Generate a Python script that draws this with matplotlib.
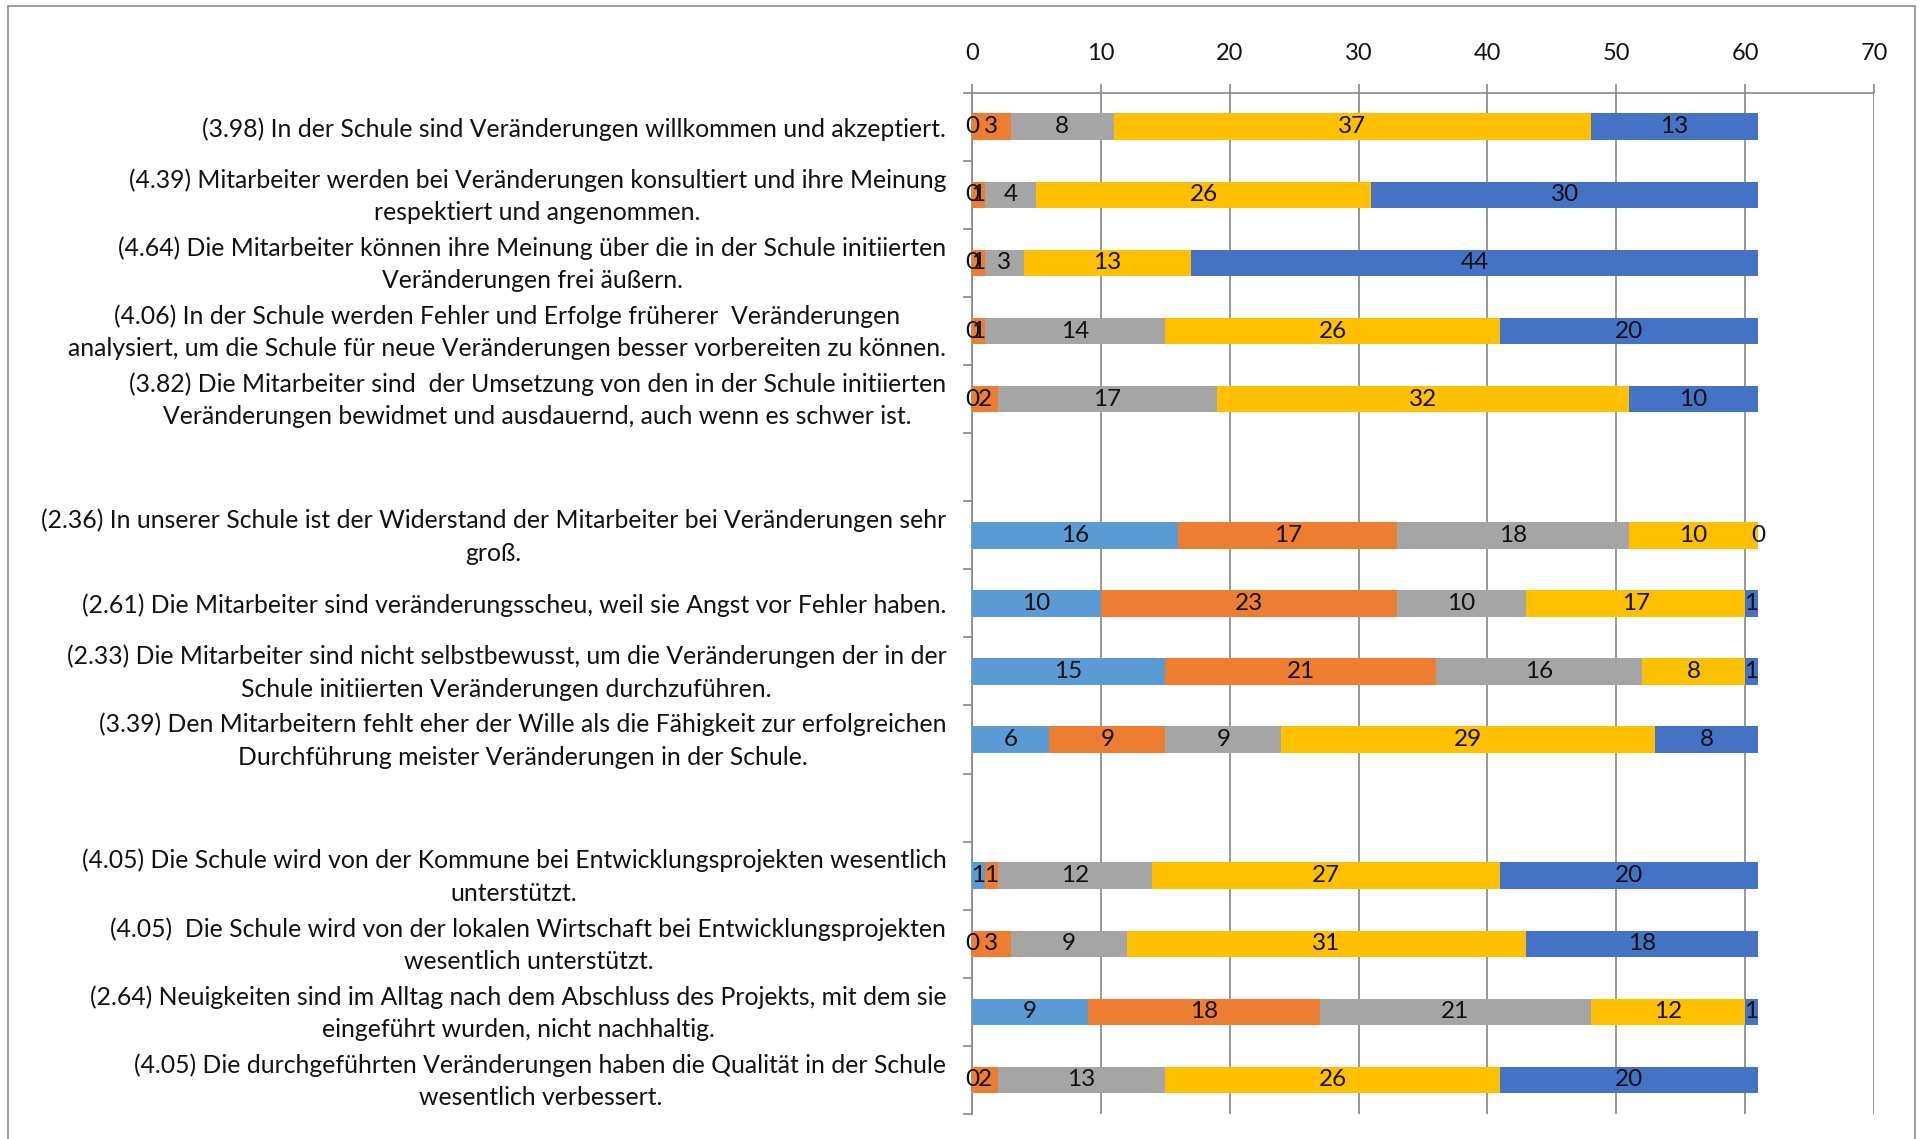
import numpy as np
import matplotlib
matplotlib.use("Agg")
import matplotlib.pyplot as plt
import matplotlib.transforms as mtransforms
from matplotlib.patches import Rectangle

plt.rcParams['font.family'] = ['Lato', 'DejaVu Sans']

# categories, top to bottom ("" = empty spacer row)
categories = [
    "(3.98) In der Schule sind Veränderungen willkommen und akzeptiert.",
    "(4.39) Mitarbeiter werden bei Veränderungen konsultiert und ihre Meinung\nrespektiert und angenommen.",
    "(4.64) Die Mitarbeiter können ihre Meinung über die in der Schule initiierten\nVeränderungen frei äußern.",
    "(4.06) In der Schule werden Fehler und Erfolge früherer  Veränderungen\nanalysiert, um die Schule für neue Veränderungen besser vorbereiten zu können.",
    "(3.82) Die Mitarbeiter sind  der Umsetzung von den in der Schule initiierten\nVeränderungen bewidmet und ausdauernd, auch wenn es schwer ist.",
    "",
    "(2.36) In unserer Schule ist der Widerstand der Mitarbeiter bei Veränderungen sehr\ngroß.",
    "(2.61) Die Mitarbeiter sind veränderungsscheu, weil sie Angst vor Fehler haben.",
    "(2.33) Die Mitarbeiter sind nicht selbstbewusst, um die Veränderungen der in der\nSchule initiierten Veränderungen durchzuführen.",
    "(3.39) Den Mitarbeitern fehlt eher der Wille als die Fähigkeit zur erfolgreichen\nDurchführung meister Veränderungen in der Schule.",
    "",
    "(4.05) Die Schule wird von der Kommune bei Entwicklungsprojekten wesentlich\nunterstützt.",
    "(4.05)  Die Schule wird von der lokalen Wirtschaft bei Entwicklungsprojekten\nwesentlich unterstützt.",
    "(2.64) Neuigkeiten sind im Alltag nach dem Abschluss des Projekts, mit dem sie\neingeführt wurden, nicht nachhaltig.",
    "(4.05) Die durchgeführten Veränderungen haben die Qualität in der Schule\nwesentlich verbessert.",
]

nan = np.nan
s1 = [0, 0, 0, 0, 0, nan, 16, 10, 15, 6, nan, 1, 0, 9, 0]
s2 = [3, 1, 1, 1, 2, nan, 17, 23, 21, 9, nan, 1, 3, 18, 2]
s3 = [8, 4, 3, 14, 17, nan, 18, 10, 16, 9, nan, 12, 9, 21, 13]
s4 = [37, 26, 13, 26, 32, nan, 10, 17, 8, 29, nan, 27, 31, 12, 26]
s5 = [13, 30, 44, 20, 10, nan, 0, 1, 1, 8, nan, 20, 18, 1, 20]

series = [s1, s2, s3, s4, s5]
colors = ['#5B9BD5', '#ED7D31', '#A5A5A5', '#FFC000', '#4472C4']

xticks = [0, 10, 20, 30, 40, 50, 60, 70]

fig = plt.figure(figsize=(19.21, 11.39), dpi=100)
ax = fig.add_axes([972 / 1921, 1 - 1114 / 1139, (1874 - 972) / 1921, (1114 - 92.7) / 1139])

grey = '#868686'
txt = '#111111'

y = np.arange(len(categories))
left = np.zeros(len(categories))
for vals, c in zip(series, colors):
    vals = np.array(vals, dtype=float)
    ok = ~np.isnan(vals)
    bars = ax.barh(y[ok], vals[ok], left=left[ok], height=0.39, color=c, zorder=3)
    ax.bar_label(bars, labels=[f"{v:g}" for v in vals[ok]], label_type='center',
                 fontsize=17.5, color=txt, zorder=4)
    left[ok] += vals[ok]

ax.set_xlim(0, 70)
ax.set_ylim(len(categories) - 0.5, -0.5)

ax.xaxis.tick_top()
ax.set_xticks(xticks)
ax.tick_params(axis='x', length=6.5, color=grey, width=1.2, labelsize=17, pad=14,
               labelcolor=txt)

ax.set_yticks(y)
ax.set_yticklabels(categories)
ax.set_yticks(np.arange(len(categories) + 1) - 0.5, minor=True)
ax.tick_params(axis='y', which='major', length=0, pad=18.5, labelsize=17.8, labelcolor=txt)
ax.tick_params(axis='y', which='minor', length=6.5, color=grey, width=1.2)
# two-line labels sit a little high in the original
lift = mtransforms.ScaledTranslation(0, 4 / 72, fig.dpi_scale_trans)
for lab in ax.get_yticklabels():
    lab.set_multialignment('center')
    lab.set_linespacing(1.5)
    if "\n" in lab.get_text():
        lab.set_transform(lab.get_transform() + lift)

ax.grid(axis='x', color=grey, lw=1.2, zorder=0)
ax.set_axisbelow(True)
for side in ['bottom', 'right']:
    ax.spines[side].set_visible(False)
for side in ['top', 'left']:
    ax.spines[side].set_color(grey)
    ax.spines[side].set_linewidth(1.2)

# outer chart frame
fig.add_artist(Rectangle((8 / 1921, -0.02), (1915 - 8) / 1921, 1 - 6 / 1139 + 0.02,
                         transform=fig.transFigure, fill=False, ec='#8c8c8c', lw=1.2))

fig.savefig("out.png", dpi=100)
